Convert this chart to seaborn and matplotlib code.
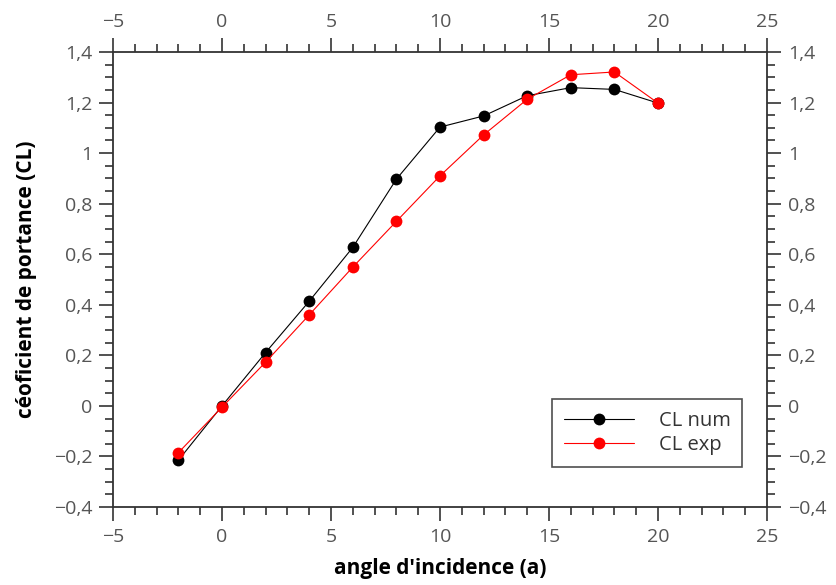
import matplotlib
matplotlib.use("Agg")
import matplotlib.pyplot as plt
from matplotlib.ticker import MultipleLocator, FuncFormatter
import seaborn as sns
import pandas as pd

angles = [-2, 0, 2, 4, 6, 8, 10, 12, 14, 16, 18, 20]
cl_num = [-0.215, 0.0, 0.211, 0.414, 0.627, 0.897, 1.103, 1.147, 1.227, 1.259, 1.252, 1.198]
cl_exp = [-0.185, -0.005, 0.173, 0.36, 0.549, 0.73, 0.91, 1.072, 1.213, 1.31, 1.321, 1.198]
series_names = ["CL num", "CL exp"]
series_colors = ["black", "red"]

df = pd.DataFrame({
    "angle": angles * 2,
    "cl": cl_num + cl_exp,
    "serie": [series_names[0]] * len(angles) + [series_names[1]] * len(angles),
})

sns.set_style("white")
plt.rcParams["font.family"] = ["Open Sans", "DejaVu Sans"]

fig = plt.figure(figsize=(8.37, 5.85), dpi=100)
ax = fig.add_axes([113/837, 1 - 507/585, (767-113)/837, (507-52)/585])

sns.lineplot(data=df, x="angle", y="cl", hue="serie", palette=dict(zip(series_names, series_colors)),
             marker="o", markersize=8.5, markeredgewidth=0, linewidth=0.8, ax=ax, sort=False)

ax.set_xlim(-5, 25)
ax.set_ylim(-0.4, 1.4)
ax.xaxis.set_major_locator(MultipleLocator(5))
ax.xaxis.set_minor_locator(MultipleLocator(1))
ax.yaxis.set_major_locator(MultipleLocator(0.2))
ax.yaxis.set_minor_locator(MultipleLocator(0.05))

def fmt(v, pos):
    s = f"{round(v, 2):g}".replace(".", ",")
    return s.replace("-", "\u2212")

ax.xaxis.set_major_formatter(FuncFormatter(fmt))
ax.yaxis.set_major_formatter(FuncFormatter(fmt))

for sp in ax.spines.values():
    sp.set_visible(True)
    sp.set_color("#333333")
    sp.set_linewidth(1.3)

ax.tick_params(which="both", direction="out", top=True, right=True, bottom=True, left=True,
               labeltop=True, labelright=True, colors="#333333", labelcolor="#555555", width=1.2)
ax.tick_params(which="major", length=10, labelsize=14, pad=5)
ax.tick_params(which="minor", length=6)

ax.set_xlabel("angle d'incidence (a)", fontsize=15, fontweight="bold", color="black", labelpad=9)
ax.set_ylabel("céoficient de portance (CL)", fontsize=15, fontweight="bold", color="black", labelpad=12)

leg = ax.legend(loc="lower right", bbox_to_anchor=(0.9625, 0.088), fontsize=14.5, frameon=True,
                fancybox=False, edgecolor="#222222", handlelength=3.5, borderpad=0.6,
                labelspacing=0.2, handletextpad=1.2, borderaxespad=0)
leg.get_frame().set_linewidth(1.2)
for t in leg.get_texts():
    t.set_color("#333333")

fig.savefig("out.png", dpi=100)
